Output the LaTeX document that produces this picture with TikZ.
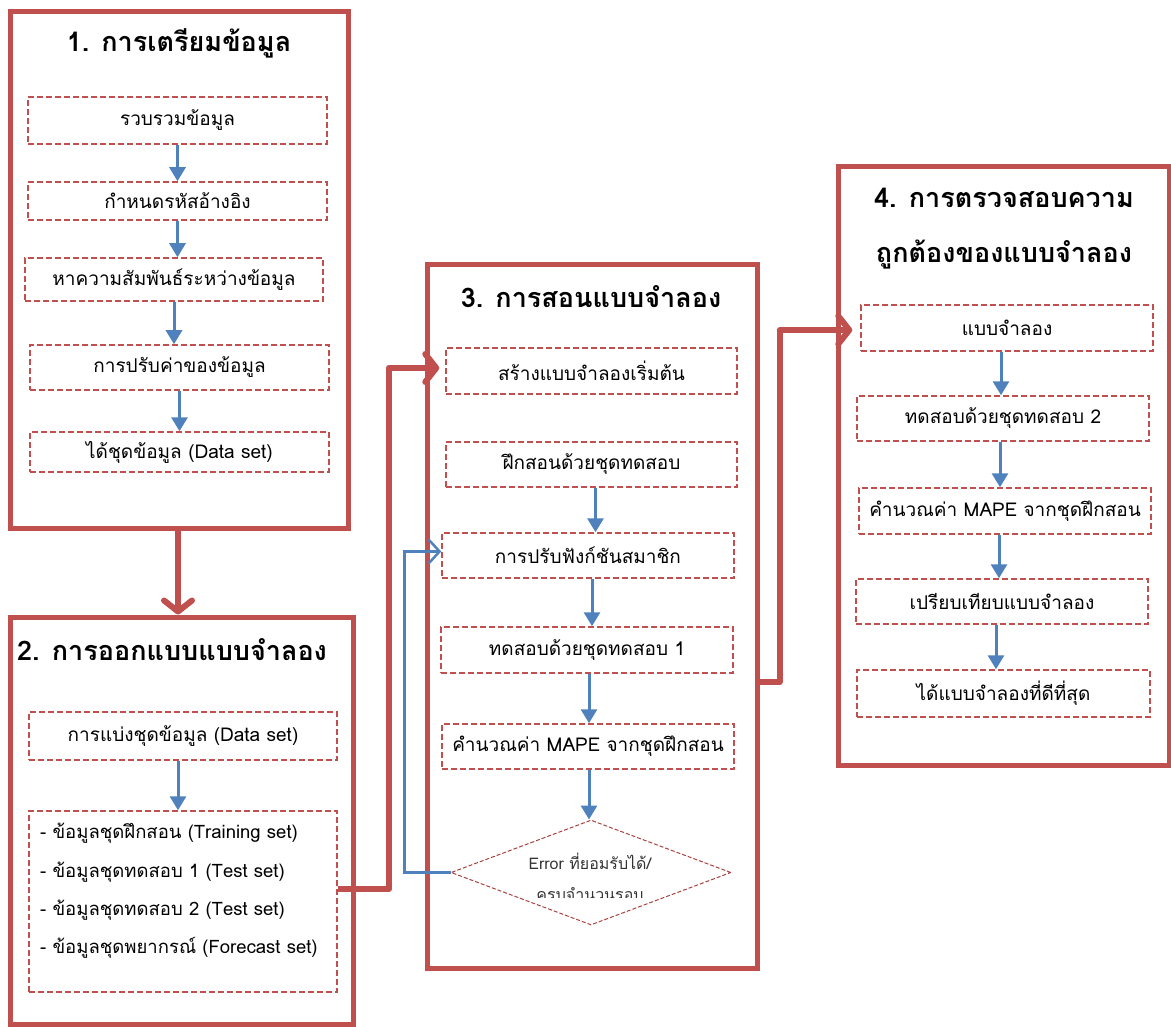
\documentclass[tikz,border=0pt]{standalone}
\usepackage{fontspec}
\setmainfont[Script=Thai]{Loma}
\usetikzlibrary{arrows.meta,shapes.geometric}
\definecolor{frame}{HTML}{C0504D}
\definecolor{flow}{HTML}{4F81BD}
\definecolor{dmd}{HTML}{A8423F}
\begin{document}
\begin{tikzpicture}[x=1pt,y=-1pt,
  stage/.style={draw=frame, line width=5pt, inner sep=0pt},
  dbox/.style={draw=frame, dash pattern=on 6pt off 3pt, line width=1.5pt,
    inner sep=0pt, font=\fontsize{19}{23}\selectfont},
  ttl/.style={font=\bfseries\fontsize{27}{33}\selectfont, inner sep=0pt},
  item/.style={font=\fontsize{18.5}{22}\selectfont, inner sep=0pt, anchor=west},
  flowarrow/.style={draw=flow, line width=3pt, -{Triangle[width=16pt,length=14pt]}},
  link/.style={draw=frame, line width=6pt, line join=round,
    -{Straight Barb[length=11pt,width=28pt,round]}},
  back/.style={draw=flow, line width=2.5pt,
    -{Straight Barb[length=11pt,width=24pt]}}]
\useasboundingbox (0,0) rectangle (1171,1027);
\clip (0,0) rectangle (1171,1027);

% ---- stage frames
\node[stage, minimum width=338, minimum height=516] (s1) at (179,270) {};
\node[stage, minimum width=343, minimum height=407] (s2) at (181.5,820.5) {};
\node[stage, minimum width=330, minimum height=703] (s3) at (592,616.5) {};
\node[stage, minimum width=331, minimum height=598] (s4) at (1003.5,466) {};

% ---- titles
\node[ttl] (t1) at (179,43) {1. การเตรียมข้อมูล};
\node[ttl, anchor=west] (t2) at (17,650) {2. การออกแบบแบบจำลอง};
\node[ttl] (t3) at (591,297) {3. การสอนแบบจำลอง};
\node[ttl] (t4a) at (1004,198) {4. การตรวจสอบความ};
\node[ttl] (t4b) at (1004,255) {ถูกต้องของแบบจำลอง};

% ---- stage 1: data preparation
\node[dbox, minimum width=299, minimum height=47] (a1) at (177.5,120.5) {รวบรวมข้อมูล};
\node[dbox, minimum width=299, minimum height=38] (a2) at (177.5,201) {กำหนดรหัสอ้างอิง};
\node[dbox, minimum width=298, minimum height=43] (a3) at (174,279.5) {หาความสัมพันธ์ระหว่างข้อมูล};
\node[dbox, minimum width=299, minimum height=45] (a4) at (179.5,367.5) {การปรับค่าของข้อมูล};
\node[dbox, minimum width=299, minimum height=40] (a5) at (179.5,452) {ได้ชุดข้อมูล (Data set)};
\draw[flowarrow] (a1.south) -- (a1.south |- a2.north);
\draw[flowarrow] (a2.south) -- (a2.south |- a3.north);
\draw[flowarrow] (a3.south) -- (a3.south |- a4.north);
\draw[flowarrow] (a4.south) -- (a4.south |- a5.north);

% ---- stage 2: model design
\node[dbox, minimum width=308, minimum height=48] (b1) at (183,736) {การแบ่งชุดข้อมูล (Data set)};
\node[dbox, minimum width=308, minimum height=181] (b2) at (183,901.5) {};
\node[item] (l1) at (40,833) {- ข้อมูลชุดฝึกสอน (Training set)};
\node[item] (l2) at (40,872) {- ข้อมูลชุดทดสอบ 1 (Test set)};
\node[item] (l3) at (40,910) {- ข้อมูลชุดทดสอบ 2 (Test set)};
\node[item] (l4) at (40,948) {- ข้อมูลชุดพยากรณ์ (Forecast set)};
\draw[flowarrow] ([xshift=-5pt]b1.south) -- ([xshift=-5pt]b1.south |- b2.north);

% ---- stage 3: model training
\node[dbox, minimum width=291, minimum height=46] (c1) at (591.5,371) {สร้างแบบจำลองเริ่มต้น};
\node[dbox, minimum width=291, minimum height=45] (c2) at (591.5,464.5) {ฝึกสอนด้วยชุดทดสอบ};
\node[dbox, minimum width=292, minimum height=45] (c3) at (588,555.5) {การปรับฟังก์ชันสมาชิก};
\node[dbox, minimum width=292, minimum height=46] (c4) at (587,650) {ทดสอบด้วยชุดทดสอบ 1};
\node[dbox, minimum width=292, minimum height=45] (c5) at (588,746.5) {คำนวณค่า MAPE จากชุดฝึกสอน};
\node[diamond, draw=dmd, dash pattern=on 4pt off 2pt, line width=1pt, inner sep=0pt,
  minimum width=280, minimum height=105] (d) at (591,872.5) {};
\begin{scope}
  \clip (450,840) rectangle (735,897);
  \node[font=\fontsize{16}{31}\selectfont, align=center, inner sep=0pt, text=black!80]
    (dl) at (590,877) {Error ที่ยอมรับได้/\\ครบจำนวนรอบ};
\end{scope}
\draw[flowarrow] ([xshift=4pt]c2.south) -- ([xshift=4pt]c2.south |- c3.north);
\draw[flowarrow] ([xshift=4pt]c3.south) -- ([xshift=4pt]c3.south |- c4.north);
\draw[flowarrow] ([xshift=2pt]c4.south) -- ([xshift=2pt]c4.south |- c5.north);
\draw[flowarrow] ([xshift=1pt]c5.south) -- ([xshift=1pt]c5.south |- d.north);
\draw[back] (d.west) -- ++(-46,0) |- ([yshift=4pt]c3.west);

% ---- stage 4: model validation
\node[dbox, minimum width=292, minimum height=46] (e1) at (1007,328) {แบบจำลอง};
\node[dbox, minimum width=292, minimum height=45] (e2) at (1003,418.5) {ทดสอบด้วยชุดทดสอบ 2};
\node[dbox, minimum width=292, minimum height=46] (e3) at (1005,511) {คำนวณค่า MAPE จากชุดฝึกสอน};
\node[dbox, minimum width=292, minimum height=45] (e4) at (1002,601.5) {เปรียบเทียบแบบจำลอง};
\node[dbox, minimum width=293, minimum height=47] (e5) at (1003.5,693.5) {ได้แบบจำลองที่ดีที่สุด};
\draw[flowarrow] ([xshift=-6pt]e1.south) -- ([xshift=-6pt]e1.south |- e2.north);
\draw[flowarrow] ([xshift=-3pt]e2.south) -- ([xshift=-3pt]e2.south |- e3.north);
\draw[flowarrow] ([xshift=-6pt]e3.south) -- ([xshift=-6pt]e3.south |- e4.north);
\draw[flowarrow] ([xshift=-6pt]e4.south) -- ([xshift=-6pt]e4.south |- e5.north);

% ---- links between stages
\draw[link] ([xshift=-1pt]s1.south) -- ([xshift=-1pt]s1.south |- s2.north);
\draw[link] ([yshift=12.5pt]b2.east) -- ++(51,0) |- ([xshift=-6pt,yshift=3pt]c1.west);
\draw[link] ([yshift=-65.5pt]s3.east) -- ++(20,0) |- ([xshift=-8pt,yshift=-2pt]e1.west);
\end{tikzpicture}
\end{document}
